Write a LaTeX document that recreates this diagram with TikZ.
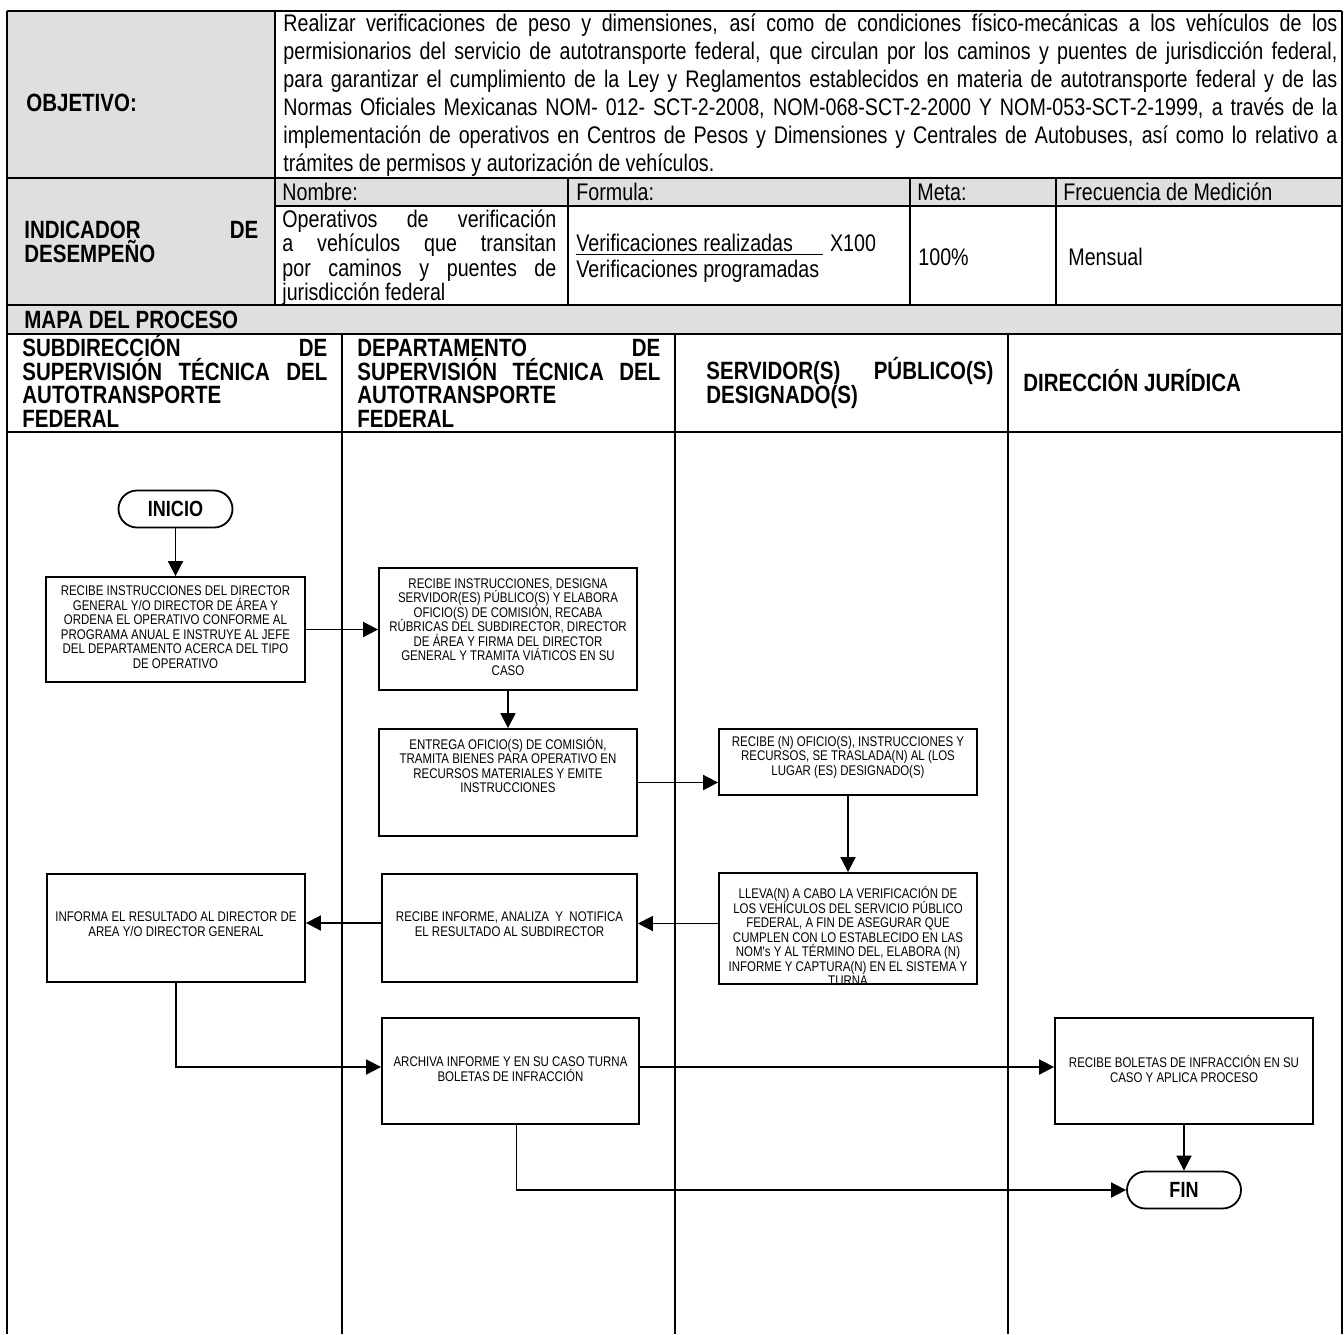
\documentclass[tikz,border=0pt]{standalone}
\usepackage{fontspec}
\setmainfont{Liberation Sans}
\newfontfamily\nar[FakeStretch=0.82]{Liberation Sans}
\usetikzlibrary{arrows.meta,shapes.misc,calc}
\definecolor{hdr}{RGB}{223,223,223}
\newcommand{\tightlns}{\lineskiplimit=-10pt\relax\lineskip=0pt\relax}
\begin{document}
\begin{tikzpicture}[x=0.5pt,y=-0.5pt,
  tbl/.style={line width=1pt},
  proc/.style={draw,line width=0.9pt,inner sep=0pt,fill=white},
  term/.style={draw,line width=0.9pt,rounded rectangle,minimum width=57pt,minimum height=18.5pt,inner sep=0pt,fill=white,font=\nar\fontsize{11}{12}\selectfont\bfseries},
  ptxt/.style={inner sep=0pt,align=center,font=\nar\fontsize{7}{7.25}\selectfont\tightlns},
  btxt/.style={inner sep=0pt,anchor=base west,font=\nar\fontsize{12.5}{13}\selectfont\bfseries},
  ntxt/.style={inner sep=0pt,anchor=base west,font=\nar\fontsize{12}{13}\selectfont},
  flow/.style={line width=0.9pt,-{Triangle[length=7.5pt,width=7.5pt]}},
  link/.style={line width=0.9pt}]
\useasboundingbox (0,0) rectangle (1344,1334);
% grey cells
\fill[hdr] (7,11) rectangle (275,305);
\fill[hdr] (275,178) rectangle (1342,206);
\fill[hdr] (7,305) rectangle (1342,334);
% table lines
\draw[tbl] (7,11) -- (1342,11);
\draw[tbl] (7,178) -- (1342,178);
\draw[tbl] (275,206) -- (1342,206);
\draw[tbl] (7,305) -- (1342,305);
\draw[tbl] (7,334) -- (1342,334);
\draw[tbl] (7,432) -- (1342,432);
\draw[line width=1.1pt] (7,11) -- (7,1334);
\draw[line width=1.1pt] (1342,11) -- (1342,1334);
\draw[tbl] (275,11) -- (275,305);
\draw[tbl] (568,178) -- (568,305);
\draw[tbl] (910,178) -- (910,305);
\draw[tbl] (1056,178) -- (1056,305);
\draw[tbl] (342,334) -- (342,1334);
\draw[tbl] (675,334) -- (675,1334);
\draw[tbl] (1008,334) -- (1008,1334);

% objetivo
\node[btxt] (lobj) at (26,111) {OBJETIVO:};
\node[ntxt] (obj1) at (283,31) {\makebox[527pt][s]{Realizar verificaciones de peso y dimensiones, así como de condiciones físico-mecánicas a los vehículos de los}};
\node[ntxt] (obj2) at (283,59) {\makebox[527pt][s]{permisionarios del servicio de autotransporte federal, que circulan por los caminos y puentes de jurisdicción federal,}};
\node[ntxt] (obj3) at (283,87) {\makebox[527pt][s]{para garantizar el cumplimiento de la Ley y Reglamentos establecidos en materia de autotransporte federal y de las}};
\node[ntxt] (obj4) at (283,115) {\makebox[527pt][s]{Normas Oficiales Mexicanas NOM- 012- SCT-2-2008, NOM-068-SCT-2-2000 Y NOM-053-SCT-2-1999, a través de la}};
\node[ntxt] (obj5) at (283,143) {\makebox[527pt][s]{implementación de operativos en Centros de Pesos y Dimensiones y Centrales de Autobuses, así como lo relativo a}};
\node[ntxt] (obj6) at (283,171) {trámites de permisos y autorización de vehículos.};

% indicador
\node[btxt] (lind1) at (24,238) {\makebox[117pt][s]{INDICADOR DE}};
\node[btxt] (lind2) at (24,262) {DESEMPEÑO};
\node[ntxt] (hnom) at (282,200) {Nombre:};
\node[ntxt] (hfor) at (576,200) {Formula:};
\node[ntxt] (hmet) at (917,200) {Meta:};
\node[ntxt] (hfre) at (1063,200) {Frecuencia de Medición};
\node[ntxt] (nom1) at (282,227) {\makebox[137pt][s]{Operativos de verificación}};
\node[ntxt] (nom2) at (282,251.5) {\makebox[137pt][s]{a vehículos que transitan}};
\node[ntxt] (nom3) at (282,276) {\makebox[137pt][s]{por caminos y puentes de}};
\node[ntxt] (nom4) at (282,300.5) {jurisdicción federal};
\node[ntxt] (for1) at (576,251) {\underline{Verificaciones realizadas\hspace{15pt}}\hspace{3.5pt}X100};
\node[ntxt] (for2) at (576,277) {Verificaciones programadas};
\node[ntxt] (meta) at (918,265) {100\%};
\node[ntxt] (frec) at (1068,265) {Mensual};

% mapa
\node[btxt] (mapa) at (24,328) {MAPA DEL PROCESO};
\node[btxt] (s1a) at (22,356) {\makebox[152.5pt][s]{SUBDIRECCIÓN DE}};
\node[btxt] (s1b) at (22,380) {\makebox[152.5pt][s]{SUPERVISIÓN TÉCNICA DEL}};
\node[btxt] (s1c) at (22,403.5) {AUTOTRANSPORTE};
\node[btxt] (s1d) at (22,427) {FEDERAL};
\node[btxt] (s2a) at (357,356) {\makebox[151.5pt][s]{DEPARTAMENTO DE}};
\node[btxt] (s2b) at (357,380) {\makebox[151.5pt][s]{SUPERVISIÓN TÉCNICA DEL}};
\node[btxt] (s2c) at (357,403.5) {AUTOTRANSPORTE};
\node[btxt] (s2d) at (357,427) {FEDERAL};
\node[btxt] (s3a) at (706,379.5) {\makebox[143.5pt][s]{SERVIDOR(S) PÚBLICO(S)}};
\node[btxt] (s3b) at (706,403.5) {DESIGNADO(S)};
\node[btxt] (s4a) at (1023,391.5) {DIRECCIÓN JURÍDICA};

% flow nodes
\node[term] (ini) at (175.5,509) {INICIO};
\node[proc,minimum width=129.5pt,minimum height=52.5pt] (A) at (175.5,629.5) {};
\node[ptxt] (At) at (175.5,627) {RECIBE INSTRUCCIONES DEL DIRECTOR\\GENERAL Y/O DIRECTOR DE ÁREA Y\\ORDENA EL OPERATIVO CONFORME AL\\PROGRAMA ANUAL E INSTRUYE AL JEFE\\DEL DEPARTAMENTO ACERCA DEL TIPO\\DE OPERATIVO};
\node[proc,minimum width=129pt,minimum height=61pt] (B) at (508,629) {};
\node[ptxt] (Bt) at (508,627) {RECIBE INSTRUCCIONES, DESIGNA\\SERVIDOR(ES) PÚBLICO(S) Y ELABORA\\OFICIO(S) DE COMISIÓN, RECABA\\RÚBRICAS DEL SUBDIRECTOR, DIRECTOR\\DE ÁREA Y FIRMA DEL DIRECTOR\\GENERAL Y TRAMITA VIÁTICOS EN SU\\CASO};
\node[proc,minimum width=129pt,minimum height=53.5pt] (C) at (508,782.5) {};
\node[ptxt] (Ct) at (508,765) {ENTREGA OFICIO(S) DE COMISIÓN,\\TRAMITA BIENES PARA OPERATIVO EN\\RECURSOS MATERIALES Y EMITE\\INSTRUCCIONES};
\node[proc,minimum width=129pt,minimum height=33pt] (D) at (848,762) {};
\node[ptxt] (Dt) at (848,757) {RECIBE (N) OFICIO(S), INSTRUCCIONES Y\\RECURSOS, SE TRASLADA(N) AL (LOS\\LUGAR (ES) DESIGNADO(S)};
\node[ptxt] (Et) at (848,936) {LLEVA(N) A CABO LA VERIFICACIÓN DE\\LOS VEHÍCULOS DEL SERVICIO PÚBLICO\\FEDERAL, A FIN DE ASEGURAR QUE\\CUMPLEN CON LO ESTABLECIDO EN LAS\\NOM's Y AL TÉRMINO DEL, ELABORA (N)\\INFORME Y CAPTURA(N) EN EL SISTEMA Y\\TURNA};
\node[draw,line width=0.9pt,inner sep=0pt,minimum width=129pt,minimum height=55.5pt] (E) at (848,928.5) {};
\node[proc,minimum width=129pt,minimum height=54pt] (F) at (176,928) {};
\node[ptxt] (Ft) at (176,924) {INFORMA EL RESULTADO AL DIRECTOR DE\\AREA Y/O DIRECTOR GENERAL};
\node[proc,minimum width=127.5pt,minimum height=54pt] (G) at (509.5,928) {};
\node[ptxt] (Gt) at (509.5,924) {RECIBE INFORME, ANALIZA \ Y \ NOTIFICA\\EL RESULTADO AL SUBDIRECTOR};
\node[proc,minimum width=128.5pt,minimum height=53pt] (H) at (510.5,1071) {};
\node[ptxt] (Ht) at (510.5,1069) {ARCHIVA INFORME Y EN SU CASO TURNA\\BOLETAS DE INFRACCIÓN};
\node[proc,minimum width=129pt,minimum height=53pt] (I) at (1184,1071) {};
\node[ptxt] (It) at (1184,1069) {RECIBE BOLETAS DE INFRACCIÓN EN SU\\CASO Y APLICA PROCESO};
\node[term] (fin) at (1184,1190) {FIN};

% connectors
\draw[flow] (ini.south) -- (A.north);
\draw[flow] (A.east) -- (A.east -| B.west);
\draw[flow] (B.south) -- (C.north);
\draw[flow] (C.east) -- (C.east -| D.west);
\draw[flow] (D.south) -- (E.north);
\coordinate (eg) at ($(E.west)+(0,-5)$);
\draw[flow] (eg) -- (eg -| G.east);
\coordinate (gf) at ($(G.west)+(0,-5)$);
\draw[flow] (gf) -- (gf -| F.east);
\coordinate (hw) at ($(H.west)+(0,-4)$);
\draw[flow] (F.south) |- (hw);
\coordinate (he) at ($(H.east)+(0,-4)$);
\draw[flow] (he) -- (he -| I.west);
\draw[flow] (I.south) -- (fin.north);
\coordinate (hs) at ($(H.south)+(6,0)$);
\draw[flow] (hs) |- (fin.west);
\end{tikzpicture}
\end{document}
